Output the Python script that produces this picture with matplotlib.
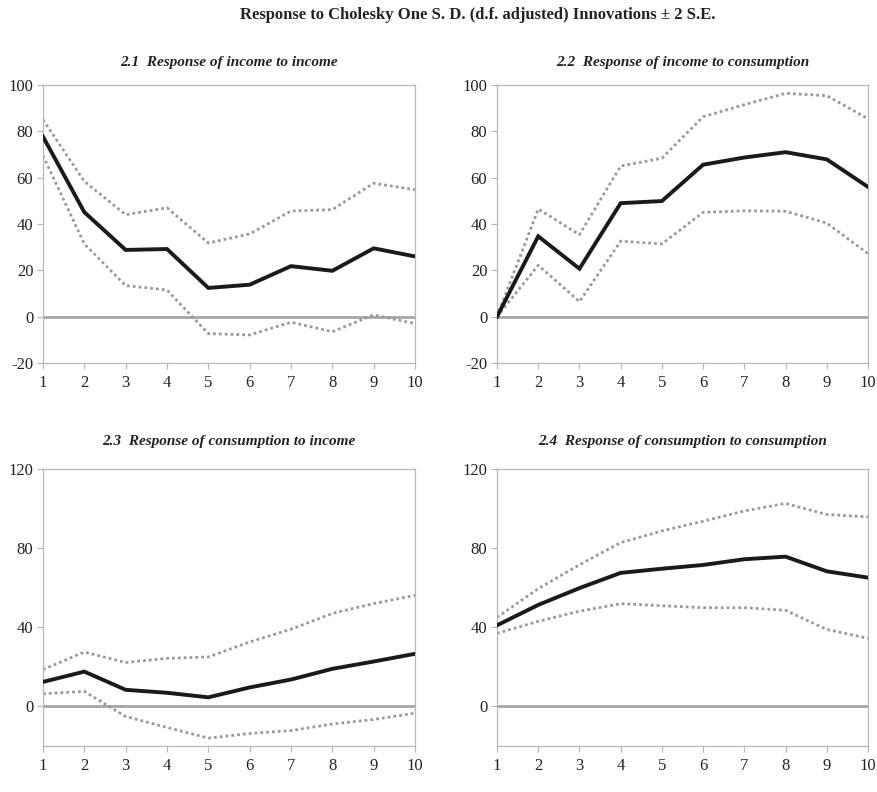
import matplotlib
matplotlib.use("Agg")
import matplotlib.pyplot as plt

plt.rcParams['font.family'] = ['Liberation Serif', 'DejaVu Serif']
plt.rcParams['axes.unicode_minus'] = False

periods = list(range(1, 11))

# 2.1 income -> income
inc_inc = [77.7, 45.1, 28.8, 29.2, 12.4, 13.8, 21.8, 19.8, 29.5, 26.0]
inc_inc_hi = [85.0, 58.4, 44.0, 47.0, 31.8, 35.7, 45.6, 46.2, 57.6, 54.8]
inc_inc_lo = [69.5, 31.4, 13.4, 11.5, -7.3, -7.9, -2.4, -6.5, 0.8, -3.0]

# 2.2 income -> consumption
inc_con = [0.0, 34.7, 20.7, 49.0, 49.9, 65.6, 68.7, 71.0, 67.9, 56.0]
inc_con_hi = [0.0, 46.5, 35.4, 65.0, 68.4, 86.3, 91.5, 96.4, 95.4, 85.4]
inc_con_lo = [0.0, 22.2, 6.5, 32.6, 31.4, 45.0, 45.7, 45.5, 40.4, 27.2]

# 2.3 consumption -> income
con_inc = [12.4, 17.6, 8.4, 6.9, 4.6, 9.6, 13.6, 19.0, 22.7, 26.6]
con_inc_hi = [18.6, 27.5, 22.2, 24.3, 25.0, 32.6, 39.0, 47.0, 52.0, 56.1]
con_inc_lo = [6.4, 7.6, -5.1, -10.6, -16.0, -13.7, -12.2, -8.9, -6.6, -3.4]

# 2.4 consumption -> consumption
con_con = [41.0, 51.3, 59.8, 67.5, 69.6, 71.5, 74.4, 75.7, 68.3, 65.1]
con_con_hi = [45.0, 59.5, 71.6, 82.8, 88.7, 93.6, 98.8, 102.6, 97.0, 95.8]
con_con_lo = [36.9, 43.0, 48.1, 51.9, 50.9, 49.9, 49.9, 48.6, 38.9, 34.4]

titles = ["2.1  Response of income to income",
          "2.2  Response of income to consumption",
          "2.3  Response of consumption to income",
          "2.4  Response of consumption to consumption"]
panels = [(inc_inc, inc_inc_hi, inc_inc_lo),
          (inc_con, inc_con_hi, inc_con_lo),
          (con_inc, con_inc_hi, con_inc_lo),
          (con_con, con_con_hi, con_con_lo)]
yticks_top = [-20, 0, 20, 40, 60, 80, 100]
yticks_bottom = [0, 40, 80, 120]

W, H = 878, 792
fig = plt.figure(figsize=(W / 100, H / 100), dpi=100)

boxes = [(43, 85, 415, 363), (497, 85, 868, 363),
         (43, 469, 415, 746), (497, 469, 868, 746)]

spine_c = '#b8b8b8'
for i, ((x0, y0, x1, y1), (mid, hi, lo), title) in enumerate(zip(boxes, panels, titles)):
    ax = fig.add_axes([x0 / W, 1 - y1 / H, (x1 - x0) / W, (y1 - y0) / H])
    ax.axhline(0, color='#a6a6a6', lw=2.0, zorder=1)
    ax.plot(periods, hi, color='#999999', lw=2.0, linestyle=(0, (1, 1.1)), zorder=2)
    ax.plot(periods, lo, color='#999999', lw=2.0, linestyle=(0, (1, 1.1)), zorder=2)
    ax.plot(periods, mid, color='#1a1a1a', lw=2.8, zorder=3, solid_joinstyle='miter')
    ax.set_xlim(1, 10)
    ax.set_xticks(periods)
    if i < 2:
        ax.set_ylim(-20, 100)
        ax.set_yticks(yticks_top)
    else:
        ax.set_ylim(-20, 120)
        ax.set_yticks(yticks_bottom)
    for s in ax.spines.values():
        s.set_color(spine_c)
        s.set_linewidth(0.9)
    ax.tick_params(direction='out', length=4, width=0.9, color=spine_c,
                   labelsize=12, labelcolor='#222222')
    ax.tick_params(axis='x', pad=5)
    ax.tick_params(axis='y', pad=3)
    ax.set_title(title, fontsize=11, fontweight='bold', style='italic',
                 color='#222222', pad=14 if i < 2 else 17)

fig.text(478 / W, 1 - 15 / H, "Response to Cholesky One S. D. (d.f. adjusted) Innovations \u00b1 2 S.E.",
         ha='center', va='center', fontsize=12, fontweight='bold', color='#222222')

fig.savefig("out.png", dpi=100)
